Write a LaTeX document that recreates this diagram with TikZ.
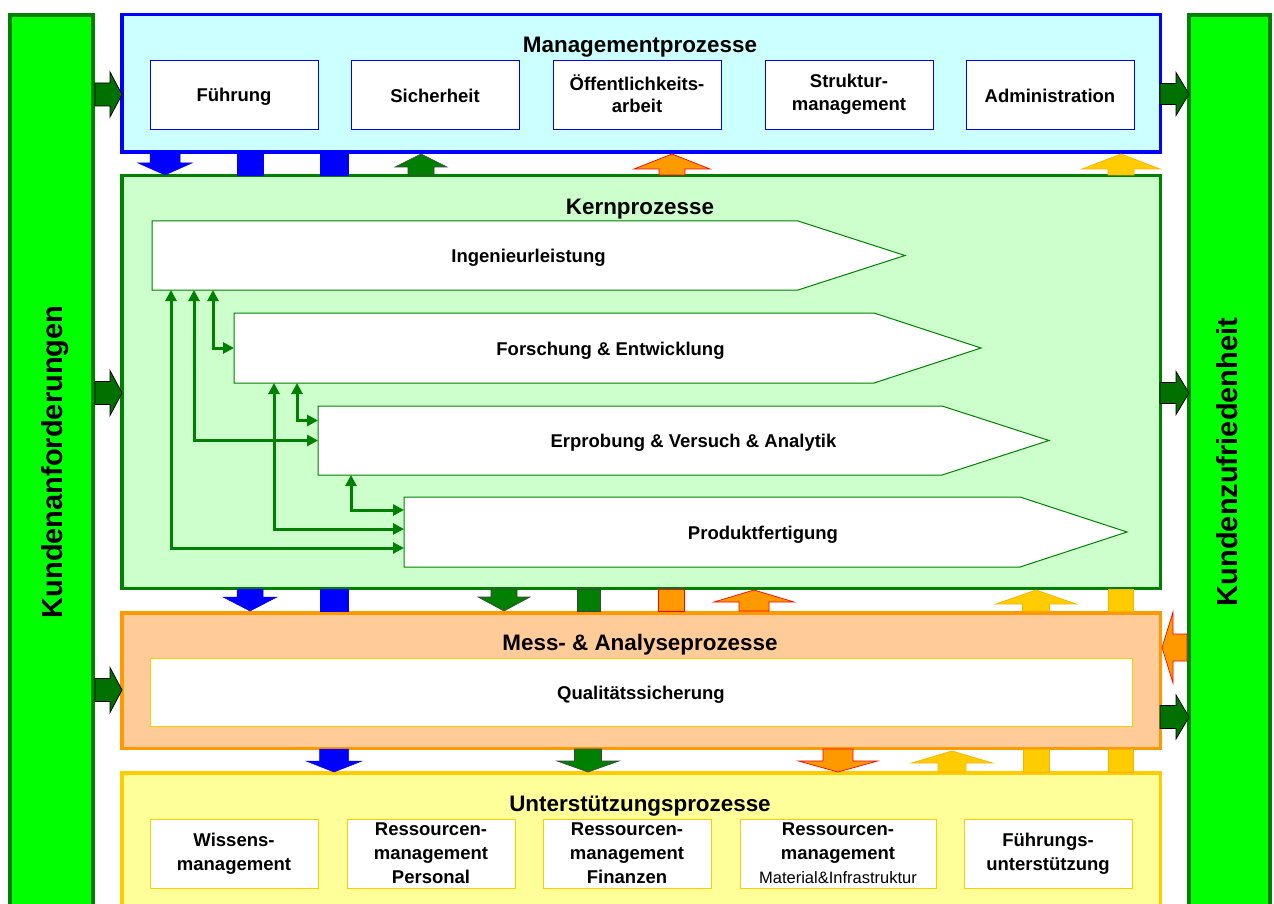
\documentclass[tikz,border=0pt]{standalone}
\usepackage{fontspec}
\setmainfont{Liberation Sans}
\usetikzlibrary{arrows.meta}

\definecolor{mgmtfill}{HTML}{CCFFFF}
\definecolor{pureblue}{HTML}{0000FF}
\definecolor{kernfill}{HTML}{CCFFCC}
\definecolor{kernline}{HTML}{008000}
\definecolor{messfill}{HTML}{FFCC99}
\definecolor{messline}{HTML}{FF9900}
\definecolor{unterfill}{HTML}{FFFF99}
\definecolor{unterline}{HTML}{FFCC00}
\definecolor{barfill}{HTML}{00FF00}
\definecolor{sidegreen}{HTML}{007000}
\definecolor{yellowedge}{HTML}{FFB000}

\newcommand{\hdrfont}{\fontsize{22.4}{26}\selectfont\bfseries}
\newcommand{\itemfont}{\fontsize{18.5}{22.5}\selectfont\bfseries}
\newcommand{\suppfont}{\fontsize{18.5}{24}\selectfont\bfseries}
\newcommand{\sidefont}{\fontsize{29}{34}\selectfont\bfseries}
\newcommand{\notefont}{\fontsize{16.5}{24}\selectfont\mdseries}
% invisible struts giving every line the same ascent and descent
\newcommand{\lnstrut}{\rule[-0.212em]{0pt}{1.117em}}
\newcommand{\boxstrut}{\rule[-0.115em]{0pt}{1.117em}}
\newcommand{\suppstrut}{\rule[-0.08em]{0pt}{1.117em}}

% block arrows: style, centre, tail, tip, shaft half width, head half width, head length
\newcommand{\blkdn}[7]{\path[#1] ({#2-#5},#3) -- ({#2+#5},#3) -- ({#2+#5},{#4-#7}) -- ({#2+#6},{#4-#7}) -- (#2,#4) -- ({#2-#6},{#4-#7}) -- ({#2-#5},{#4-#7}) -- cycle;}
\newcommand{\blkup}[7]{\path[#1] ({#2-#5},#3) -- ({#2+#5},#3) -- ({#2+#5},{#4+#7}) -- ({#2+#6},{#4+#7}) -- (#2,#4) -- ({#2-#6},{#4+#7}) -- ({#2-#5},{#4+#7}) -- cycle;}
\newcommand{\blkright}[7]{\path[#1] (#3,{#2-#5}) -- ({#4-#7},{#2-#5}) -- ({#4-#7},{#2-#6}) -- (#4,#2) -- ({#4-#7},{#2+#6}) -- ({#4-#7},{#2+#5}) -- (#3,{#2+#5}) -- cycle;}
\newcommand{\blkleft}[7]{\path[#1] (#3,{#2-#5}) -- ({#4+#7},{#2-#5}) -- ({#4+#7},{#2-#6}) -- (#4,#2) -- ({#4+#7},{#2+#6}) -- ({#4+#7},{#2+#5}) -- (#3,{#2+#5}) -- cycle;}
% plain bar between two areas: style, centre, y1, y2, half width
\newcommand{\blkbar}[5]{\path[#1] ({#2-#5},#3) rectangle ({#2+#5},#4);}

\pgfdeclarelayer{back}
\pgfdeclarelayer{mid}
\pgfsetlayers{back,mid,main}

\tikzset{
  struts/.style={execute at begin node=\lnstrut, execute at end node=\lnstrut},
  boxstruts/.style={execute at begin node=\boxstrut, execute at end node=\boxstrut},
  suppstruts/.style={execute at begin node=\suppstrut, execute at end node=\suppstrut},
  area/.style={draw, line width=3.5pt, inner sep=0pt, outer sep=0pt},
  sidebar/.style={draw=kernline, fill=barfill, line width=4pt, inner sep=0pt, outer sep=0pt},
  hdr/.style={font=\hdrfont, inner sep=0pt, struts},
  mitem/.style={draw=pureblue, fill=white, line width=0.9pt, minimum width=168pt,
    minimum height=69pt, inner sep=0pt, align=center, font=\itemfont, boxstruts},
  uitem/.style={draw=unterline, fill=white, line width=0.9pt, minimum width=168pt,
    minimum height=69pt, inner sep=0pt, align=center, font=\suppfont, suppstruts},
  pent/.style={minimum height=69pt, inner sep=0pt, outer sep=0pt, font=\itemfont, boxstruts},
  pentline/.style={draw=kernline, fill=white, line width=1pt},
  conn/.style={draw=kernline, line width=3pt,
    {Triangle[length=11pt,width=11pt]}-{Triangle[length=11pt,width=11pt]}},
  blueblk/.style={fill=pureblue, draw=pureblue, line width=0.5pt},
  greenblk/.style={fill=kernline, draw=black!75, line width=0.6pt},
  orangeblk/.style={fill=messline, draw=red, line width=0.7pt},
  yellowblk/.style={fill=unterline, draw=yellowedge, line width=0.7pt},
  sideblk/.style={fill=sidegreen, draw=black, line width=0.8pt},
  sidetext/.style={font=\sidefont, rotate=90, inner sep=0pt, struts}
}

\begin{document}
\begin{tikzpicture}[x=1pt,y=-1pt]
\useasboundingbox (0,0) rectangle (1274,904);

% process areas and side bars
\begin{pgfonlayer}{back}
  \node[sidebar, minimum width=83pt, minimum height=935pt] (lbar) at (51.5,482.5) {};
  \node[sidebar, minimum width=81pt, minimum height=935pt] (rbar) at (1229.5,482.5) {};
  \node[area, draw=pureblue, fill=mgmtfill, minimum width=1038.5pt, minimum height=137.5pt] (mgmt) at (641,83.5) {};
  \node[area, draw=kernline, fill=kernfill, minimum width=1038.5pt, minimum height=412.5pt] (kern) at (641,382) {};
  \node[area, draw=messline, fill=messfill, minimum width=1038.5pt, minimum height=135.5pt] (mess) at (641,680.5) {};
  \node[area, draw=unterline, fill=unterfill, minimum width=1038.5pt, minimum height=177.25pt] (unter) at (641,861.4) {};
\end{pgfonlayer}

% side labels
\node[sidetext] (kanf) at (52,462) {Kundenanforderungen};
\node[sidetext] (kzuf) at (1227,462) {Kundenzufriedenheit};

% headings
\node[hdr] (mgmtT) at (640,45) {Managementprozesse};
\node[hdr] (kernT) at (640,207) {Kernprozesse};
\node[hdr] (messT) at (640,643) {Mess- \& Analyseprozesse};
\node[hdr] (unterT) at (640,804) {Unterstützungsprozesse};

% management processes
\node[mitem] (fue)  at (234,94.5)  {Führung};
\node[mitem] (sich) at (435,94.5)  {Sicherheit};
\node[mitem] (oeff) at (637,94.5)  {Öffentlichkeits-\\arbeit};
\node[mitem] (strk) at (849,94.5)  {Struktur-\\management};
\node[mitem] (adm)  at (1050,94.5) {Administration};

% core processes
\node[pent, minimum width=753pt] (ing) at (528.5,255.5) {Ingenieurleistung};
\node[pent, minimum width=747pt, minimum height=70pt] (forsch) at (607.5,348) {\hspace*{6pt}Forschung \& Entwicklung};
\node[pent, minimum width=731pt] (erp) at (683.5,440.5) {\hspace*{20pt}Erprobung \& Versuch \& Analytik};
\node[pent, minimum width=723pt, minimum height=70pt] (prod) at (765.5,532) {Produktfertigung\hspace*{5pt}};

\begin{pgfonlayer}{mid}
  \foreach \p in {ing,forsch,erp,prod}
    \path[pentline] (\p.north west) -- ([xshift=-107pt]\p.north east) -- (\p.east)
      -- ([xshift=-107pt]\p.south east) -- (\p.south west) -- cycle;
\end{pgfonlayer}

\draw[conn] ([xshift=19pt]ing.south west) |- ([yshift=-16pt]prod.west);
\draw[conn] ([xshift=42pt]ing.south west) |- (erp.west);
\draw[conn] ([xshift=61pt]ing.south west) |- (forsch.west);
\draw[conn] ([xshift=40pt]forsch.south west) |- ([yshift=3pt]prod.west);
\draw[conn] ([xshift=63pt]forsch.south west) |- ([yshift=20pt]erp.west);
\draw[conn] ([xshift=33pt]erp.south west) |- ([yshift=22pt]prod.west);

% measurement and analysis
\node[mitem, draw=unterline, minimum width=982pt, minimum height=68pt] (qs) at (641,692) {Qualitätssicherung};

% support processes
\node[uitem] (wiss) at (234,853.5) {Wissens-\\management};
\node[uitem] (pers) at (431,853.5) {Ressourcen-\\management\\Personal};
\node[uitem] (fin)  at (627,853.5) {Ressourcen-\\management\\Finanzen};
\node[uitem, minimum width=196pt] (mat) at (838,853.5) {Ressourcen-\\management\\{\notefont Material\&Infrastruktur}};
\node[uitem] (fuu)  at (1048,853.5) {Führungs-\\unterstützung};

% flows between management and core processes
\blkdn{blueblk}{165}{153}{175}{15}{27}{12}
\blkbar{blueblk}{250}{153}{175}{13}
\blkbar{blueblk}{334}{153}{175}{14}
\blkup{greenblk}{421}{175}{154}{13}{26}{13}
\blkup{orangeblk}{672}{175}{154}{13}{38}{15}
\blkup{yellowblk}{1121}{175}{154}{13}{39}{15}

% flows between core and measurement processes
\blkdn{blueblk}{250}{589}{611}{13}{27}{14}
\blkbar{blueblk}{334}{589}{611}{14}
\blkdn{greenblk}{504}{589}{611}{13}{26}{14}
\blkbar{greenblk}{588.5}{589}{611}{11.5}
\blkbar{orangeblk}{671}{589}{611}{13}
\blkup{orangeblk}{754}{611}{590}{15}{40}{12}
\blkup{yellowblk}{1036}{611}{590}{13.5}{40}{14}
\blkbar{yellowblk}{1120.5}{589}{611}{12.5}

% flows between measurement and support processes
\blkdn{blueblk}{334}{749}{772}{14.5}{28}{11}
\blkdn{greenblk}{588}{749}{772}{13.5}{31}{11}
\blkdn{orangeblk}{838}{749}{772}{15}{39.5}{11}
\blkup{yellowblk}{952}{772}{751}{14}{40.5}{12}
\blkbar{yellowblk}{1036}{749}{772}{13}
\blkbar{yellowblk}{1120.5}{749}{772}{12.5}

% customer requirements in, satisfaction out
\blkright{sideblk}{94.5}{95}{122}{11.5}{22.5}{12}
\blkright{sideblk}{393}{95}{122}{11.5}{22.5}{12}
\blkright{sideblk}{690}{95}{122}{11.5}{22.5}{12}
\blkright{sideblk}{94}{1160}{1189}{10.5}{21.5}{13}
\blkright{sideblk}{393}{1160}{1189}{10.5}{21.5}{13}
\blkright{sideblk}{717}{1160}{1189}{11.5}{22}{13}
\blkleft{orangeblk}{647.5}{1187}{1162}{13.5}{35.5}{11}
\end{tikzpicture}
\end{document}
